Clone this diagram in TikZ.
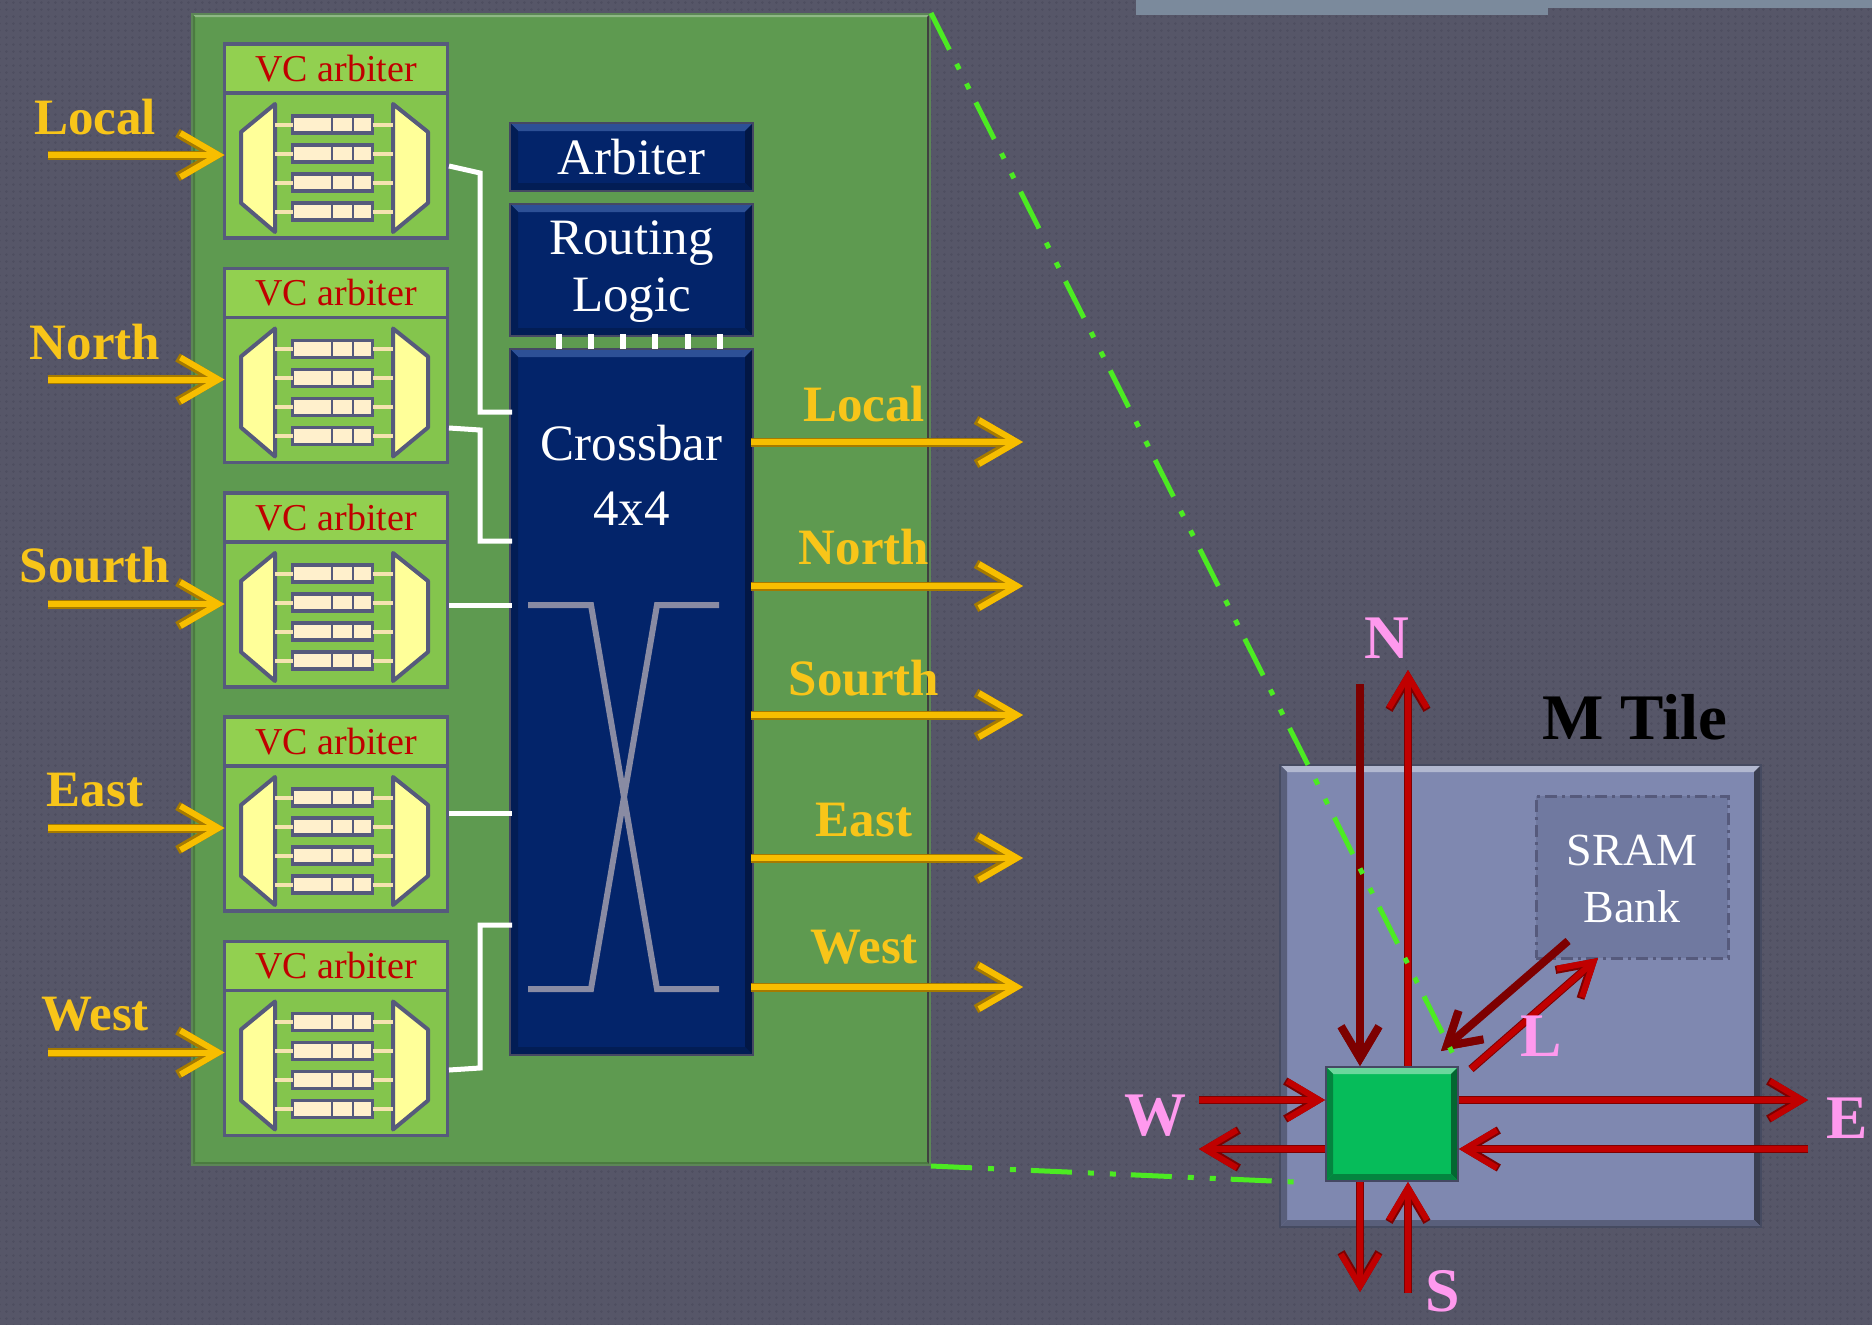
\documentclass[tikz,border=0pt]{standalone}
\usepackage{fontspec}
\usepackage{xcolor}
\usepackage{tikz}
\usetikzlibrary{arrows.meta, positioning, calc, patterns.meta}
\setmainfont{Liberation Serif}
\definecolor{slatebg}{RGB}{86, 86, 104}
\definecolor{slatedot}{RGB}{78, 78, 96}
\definecolor{panelgreen}{RGB}{94, 154, 80}
\definecolor{headgreen}{RGB}{146, 208, 80}
\definecolor{bodygreen}{RGB}{132, 197, 77}
\definecolor{edgeblue}{RGB}{86, 90, 124}
\definecolor{muxyellow}{RGB}{255, 255, 153}
\definecolor{buffcream}{RGB}{255, 240, 204}
\definecolor{stubcream}{RGB}{245, 227, 176}
\definecolor{xbarnavy}{RGB}{3, 36, 106}
\definecolor{xbartop}{RGB}{45, 80, 150}
\definecolor{goldline}{RGB}{247, 190, 0}
\definecolor{golddark}{RGB}{165, 122, 0}
\definecolor{routered}{RGB}{192, 0, 0}
\definecolor{reddark}{RGB}{125, 0, 0}
\definecolor{tileblue}{RGB}{127, 136, 176}
\definecolor{sramblue}{RGB}{112, 121, 160}
\definecolor{routergreen}{RGB}{6, 188, 90}
\definecolor{zoomgreen}{RGB}{76, 235, 34}
\definecolor{labelpink}{RGB}{255, 153, 238}
\definecolor{topgrey}{RGB}{123, 138, 156}

\begin{document}
\begin{tikzpicture}[x=1pt, y=-1pt,
    bevel/.style n args={4}{path picture={
        \coordinate (nw) at (path picture bounding box.north west);
        \coordinate (ne) at (path picture bounding box.north east);
        \coordinate (sw) at (path picture bounding box.south west);
        \coordinate (se) at (path picture bounding box.south east);
        \fill[#1] (nw) -- (ne) -- ($(ne)+(-#4,#4)$) -- ($(nw)+(#4,#4)$) -- cycle;
        \fill[#2] (ne) -- (se) -- ($(se)+(-#4,-#4)$) -- ($(ne)+(-#4,#4)$) -- cycle;
        \fill[#3] (sw) -- (se) -- ($(se)+(-#4,-#4)$) -- ($(sw)+(#4,-#4)$) -- cycle;
        \fill[#3] (nw) -- (sw) -- ($(sw)+(#4,-#4)$) -- ($(nw)+(#4,#4)$) -- cycle;
    }},
    panel/.style={rectangle, fill=panelgreen, draw=panelgreen!70!slatebg, line width=2pt, inner sep=0pt, minimum width=738pt, minimum height=1151pt, bevel={panelgreen!70!white}{black!75}{panelgreen!80!black}{3}},
    vchead/.style={rectangle, fill=headgreen, draw=edgeblue, line width=3.5pt, inner sep=0pt, outer sep=0pt, minimum width=223pt, minimum height=49pt, text=routered, font=\fontsize{38}{42}\selectfont},
    vcbody/.style={rectangle, fill=bodygreen, draw=edgeblue, line width=3.5pt, inner sep=0pt, outer sep=0pt, minimum width=223pt, minimum height=145pt},
    mux/.style={fill=muxyellow, draw=edgeblue, line width=4pt, line join=round},
    buff/.style={rectangle, fill=buffcream, draw=edgeblue, line width=3.5pt, inner sep=0pt, outer sep=0pt, minimum width=80pt, minimum height=17pt},
    stub/.style={draw=stubcream, line width=4pt},
    xbar/.style={rectangle, fill=xbarnavy, draw=edgeblue!80!black, line width=2pt, inner sep=0pt, outer sep=-2pt, minimum width=243pt, bevel={xbartop}{xbarnavy!65!black}{xbarnavy!80!black}{8}},
    xbartext/.style={text=white, align=center, inner sep=0pt, font=\fontsize{51}{57}\selectfont},
    wire/.style={draw=white, line width=5pt},
    inport/.style={draw=goldline, line width=6pt, -{Straight Barb[length=38pt, width=44pt]}, preaction={draw=golddark, line width=9pt}},
    portlabel/.style={text=goldline!90!white, inner sep=0pt, font=\fontsize{51}{56}\selectfont\bfseries},
    link/.style={draw=routered, line width=6pt, -{Straight Barb[length=32pt, width=38pt]}, preaction={draw=reddark, line width=8pt}},
    darklink/.style={link, draw=reddark},
    dirlabel/.style={text=labelpink, inner sep=0pt, font=\fontsize{62}{70}\selectfont\bfseries},
    zoomline/.style={draw=zoomgreen, line width=5pt, dash pattern=on 41pt off 16pt on 6pt off 16pt on 6pt off 15pt}]

    \useasboundingbox (0,0) rectangle (1872,1325);

    % Background
    \fill[slatebg] (0,0) rectangle (1872,1325);
    \fill[pattern={Dots[distance=7.4pt, radius=1.5pt]}, pattern color=slatedot] (0,0) rectangle (1872,1325);
    \fill[topgrey] (1136,0) rectangle (1548,15);
    \fill[topgrey] (1548,0) rectangle (1872,8);

    % Router panel
    \node[panel] (panel) at (561,589.5) {};

    % Input modules
    \foreach \i/\y/\name/\ly in {1/44/Local/117, 2/268.5/North/342, 3/493/Sourth/565, 4/717/East/790, 5/941.5/West/1014} {
        \begin{scope}[shift={(0,\y)}]
            \node[vchead] (head\i) at (336,24.5) {VC arbiter};
            \node[vcbody, below=0pt of head\i] (body\i) {};
            \draw[mux] (275,60) -- (241,88) -- (241,159) -- (275,188) -- cycle;
            \draw[mux] (393,60) -- (428,88) -- (428,159) -- (393,188) -- cycle;
            \foreach \j/\by in {1/80.5, 2/109.5, 3/138.5, 4/167.5} {
                \coordinate (lmux\i\j) at (275,\by);
                \coordinate (rmux\i\j) at (393,\by);
                \node[buff] (buff\i\j) at (332.5,\by) {};
                \draw[edgeblue, line width=2pt] (332,\by-9) -- (332,\by+9);
                \draw[edgeblue, line width=2pt] (353,\by-9) -- (353,\by+9);
                \draw[stub] (lmux\i\j) -- (buff\i\j.west);
                \draw[stub] (buff\i\j.east) -- (rmux\i\j);
            }
            \coordinate (instart\i) at (48,111);
            \node[portlabel] (inlabel\i) at (95,\ly-\y) {\name};
        \end{scope}
        \draw[inport] (instart\i) -- (instart\i -| body\i.west);
    }

    % Arbiter, routing logic, crossbar
    \node[xbar, minimum height=68pt] (arbiter) at (631.5,157) {};
    \node[xbar, minimum height=132pt, below=17pt of arbiter] (routing) {};
    \node[xbar, minimum height=706pt, below=17pt of routing] (crossbar) {};
    \node[xbartext] (arbitertext) at (arbiter) {Arbiter};
    \node[xbartext] (routingtext) at (631.5,272) {Routing\\Logic};
    \node[xbartext, font=\fontsize{51}{65}\selectfont] (crossbartext) at (631.5,475) {Crossbar\\4x4};

    % Ticks between routing logic and crossbar
    \foreach \x in {559, 591, 623, 655, 688, 720} {
        \draw[wire, line width=6pt] (\x,334) -- (\x,349);
    }

    % Crossed wires
    \draw[draw=edgeblue!70!white, line width=6pt] (528,605) -- (591,605) -- (657,989) -- (719,989);
    \draw[draw=edgeblue!70!white, line width=6pt] (719,605) -- (657,605) -- (591,989) -- (528,989);

    % Module to crossbar wires
    \coordinate (bend1a) at (480,173);
    \coordinate (bend1b) at (480,412);
    \coordinate (bend2a) at (480,430);
    \coordinate (bend2b) at (480,541);
    \coordinate (bend5a) at (480,1068);
    \coordinate (bend5b) at (480,925);
    \coordinate (wire1) at (449,166);
    \coordinate (wire2) at (449,428);
    \coordinate (wire3) at (449,605);
    \coordinate (wire4) at (449,813);
    \coordinate (wire5) at (449,1070);
    \draw[wire] (wire1) -- (bend1a) -- (bend1b) -- (bend1b -| crossbar.west);
    \draw[wire] (wire2) -- (bend2a) -- (bend2b) -- (bend2b -| crossbar.west);
    \draw[wire] (wire3) -- (wire3 -| crossbar.west);
    \draw[wire] (wire4) -- (wire4 -| crossbar.west);
    \draw[wire] (wire5) -- (bend5a) -- (bend5b) -- (bend5b -| crossbar.west);

    % Output ports
    \foreach \i/\y/\name/\ly in {1/442/Local/404, 2/586/North/547, 3/715/Sourth/678, 4/858/East/820, 5/987/West/947} {
        \coordinate (outstart\i) at (crossbar.east |- 0,\y);
        \coordinate (outend\i) at (1023,\y);
        \draw[inport] (outstart\i) -- (outend\i);
        \node[portlabel] (outlabel\i) at (864,\ly) {\name};
    }

    % M tile
    \node[rectangle, fill=tileblue, draw=tileblue!55!black, line width=2pt, inner sep=0pt, minimum width=481pt, minimum height=462pt, bevel={tileblue!60!white}{tileblue!45!black}{tileblue!70!black}{7}] (tile) at (1520.5,996) {};
    \node[inner sep=0pt, font=\fontsize{65}{70}\selectfont\bfseries] (tiletitle) at (1635,717) {M Tile};
    \node[rectangle, fill=sramblue, draw=edgeblue, line width=3pt, dash pattern=on 12pt off 5pt on 3pt off 5pt, inner sep=0pt, minimum width=192pt, minimum height=162pt] (sram) at (1632,877) {};
    \node[xbartext, font=\fontsize{46}{57}\selectfont] (sramtext) at (1632,879) {SRAM\\Bank};
    \node[rectangle, fill=routergreen, draw=edgeblue!80!black, line width=2pt, inner sep=0pt, minimum width=132pt, minimum height=114pt, bevel={routergreen!60!white}{routergreen!55!black}{routergreen!70!black}{7}] (router) at (1392,1124) {};

    % Link ends
    \coordinate (northin) at (1360,684);
    \coordinate (northout) at (1408,670);
    \coordinate (westin) at (1199,1100);
    \coordinate (westout) at (1199,1149);
    \coordinate (eastout) at (1808,1100);
    \coordinate (eastin) at (1808,1149);
    \coordinate (southout) at (1360,1292);
    \coordinate (southin) at (1408,1293);
    \coordinate (sramout) at (1568,941);
    \coordinate (localin) at (1441,1051);
    \coordinate (localout) at (1471,1069);
    \coordinate (sramin) at (1598,958);

    % Links
    \draw[darklink] (northin) -- (northin |- router.north);
    \draw[link] (northout |- router.north) -- (northout);
    \draw[link] (westin) -- (westin -| router.west);
    \draw[link] (westout -| router.west) -- (westout);
    \draw[link] (eastout -| router.east) -- (eastout);
    \draw[link] (eastin) -- (eastin -| router.east);
    \draw[link] (southout |- router.south) -- (southout);
    \draw[link] (southin) -- (southin |- router.south);
    \draw[darklink] (sramout) -- (localin);
    \draw[link] (localout) -- (sramin);

    % Direction labels
    \node[dirlabel] (northlabel) at (1387,638) {N};
    \node[dirlabel] (westlabel) at (1155,1116) {W};
    \node[dirlabel] (eastlabel) at (1847,1118) {E};
    \node[dirlabel] (southlabel) at (1443,1291) {S};
    \node[dirlabel] (locallabel) at (1541,1036) {L};

    % Zoom lines
    \coordinate (zoomend) at (1295,1182);
    \draw[zoomline] (panel.north east) -- (router.north east);
    \draw[zoomline] (panel.south east) -- (zoomend);
\end{tikzpicture}
\end{document}
